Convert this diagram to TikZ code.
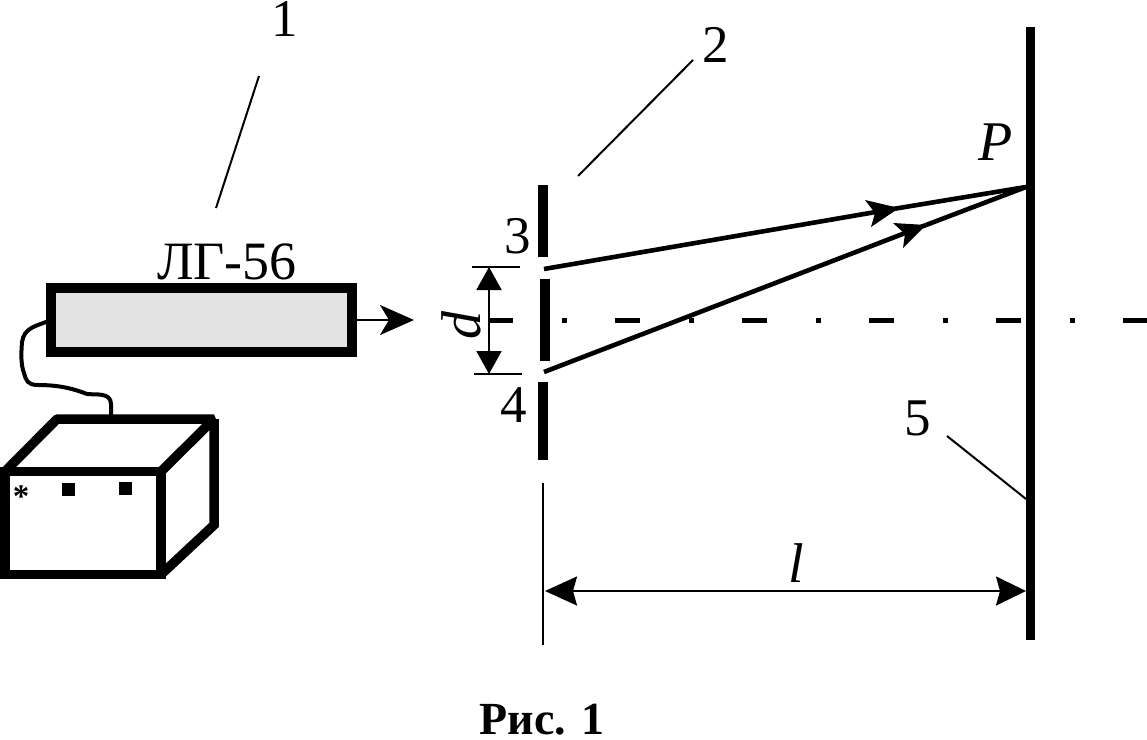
\documentclass[tikz,border=0pt]{standalone}
\usepackage{fontspec}
\setmainfont{Liberation Serif}
\usetikzlibrary{arrows.meta,calc}
\tikzset{
  lbl/.style={inner sep=0pt,outer sep=0pt,font=\fontsize{53}{53}\selectfont},
  ilbl/.style={lbl,font=\fontsize{56}{56}\selectfont\itshape},
  thickbox/.style={draw=black,line width=9.5pt,inner sep=0pt,outer sep=0pt},
  sq/.style={fill=black,inner sep=0pt,outer sep=0pt,minimum size=13pt},
  wall/.style={line width=9.5pt,black},
  ray/.style={line width=4.6pt,black},
  thin1/.style={line width=2pt,black},
  leader/.style={line width=2pt,black},
  cable/.style={line width=4pt,black,line join=round,line cap=round},
  axisline/.style={line width=5pt,black,dash pattern=on 25pt off 49pt on 4.5pt off 48.5pt,dash phase=0pt},
}
\begin{document}
\begin{tikzpicture}[x=1pt,y=-1pt]
\useasboundingbox (0,0) rectangle (1147,739);
% laser
\node[thickbox,fill=gray!22,minimum width=301pt,minimum height=64pt] (laser) at (201.5,320) {};
\node[font=\fontsize{54}{54}\selectfont,inner sep=0pt] (lasertxt) at (227,262) {ЛГ-56};
\coordinate (beam) at (414,320);
\draw[line width=2pt,-{Stealth[length=34pt,width=30pt,inset=9pt]}] (laser.east) -- (beam);
% power supply
\coordinate (bA) at (5,471.5);
\coordinate (bB) at (161,471.5);
\coordinate (bC) at (57,419);
\coordinate (bD) at (214,419);
\coordinate (bE) at (214,525);
\coordinate (bF) at (161,574.5);
\node[thickbox,minimum width=156pt,minimum height=103pt] (front) at (83,523) {};
\draw[wall,line join=bevel] (bA) -- (bC) -- (bD) -- (bB);
\draw[wall,line join=miter] (bD) -- (bE) -- (bF);
\node[sq] (s1) at (68.5,489.5) {};
\node[sq] (s2) at (125.5,488.5) {};
\node[inner sep=0pt,font=\fontsize{33}{33}\bfseries\selectfont] (star) at (21,497) {*};
% cable
\coordinate (cabS) at (46,322);
\coordinate (cabE) at (111,416);
\draw[cable] (cabS) .. controls (36,326) and (24,328) .. (22,342)
  .. controls (21,355) and (21,365) .. (24,373)
  .. controls (26,380) and (27,385) .. (38,385)
  .. controls (60,385) and (74,389) .. (87,394)
  .. controls (95,395) and (111,392) .. (111,404) -- (cabE);
% slits
\coordinate (w1a) at (543,185); \coordinate (w1b) at (543,257);
\coordinate (w2a) at (545,279); \coordinate (w2b) at (545,361);
\coordinate (w3a) at (543,382); \coordinate (w3b) at (543,460);
\draw[wall] (w1a) -- (w1b);
\draw[wall] (w2a) -- (w2b);
\draw[wall] (w3a) -- (w3b);
% screen
\coordinate (scrA) at (1030.5,27); \coordinate (scrB) at (1030.5,640);
\draw[wall] (scrA) -- (scrB);
% axis
\coordinate (axA) at (488,320); \coordinate (axB) at (1147,320);
\draw[axisline] (axA) -- (axB);
% rays
\coordinate (r3) at (544,269); \coordinate (r4) at (544,372);
\coordinate (P) at (1026,187);
\coordinate (t3) at (899,208); \coordinate (t4) at (926,225);
\draw[ray] (r3) -- (t3);
\draw[ray] (r4) -- (t4);
\draw[ray] (t3) -- (P);
\draw[ray] (t4) -- (P);
\fill[black] (t3) -- (865,200) -- (875,213) -- (871,227) -- cycle;
\fill[black] (t4) -- (893,223) -- (905,234) -- (903,248) -- cycle;
% d dimension
\coordinate (d1a) at (472,267); \coordinate (d1b) at (520,267);
\coordinate (d2a) at (474,374); \coordinate (d2b) at (522,374);
\coordinate (dt) at (489,267); \coordinate (db) at (489,374);
\draw[thin1] (d1a) -- (d1b);
\draw[thin1] (d2a) -- (d2b);
\draw[thin1,{Stealth[length=23pt,width=25pt,inset=0pt]}-{Stealth[length=23pt,width=25pt,inset=0pt]}] (dt) -- (db);
\node[ilbl,rotate=90] (d) at (461,325) {d};
% l dimension
\coordinate (la) at (543,483); \coordinate (lb) at (543,645);
\coordinate (l1) at (545,591); \coordinate (l2) at (1026,591);
\draw[thin1] (la) -- (lb);
\draw[thin1,{Stealth[length=32pt,width=29pt,inset=4pt]}-{Stealth[length=30pt,width=29pt,inset=4pt]}] (l1) -- (l2);
\node[ilbl] (l) at (796,563) {l};
% labels and leaders
\node[lbl] (n1) at (285,19) {1};
\node[lbl] (n2) at (716,45) {2};
\node[lbl] (n3) at (518,236) {3};
\node[lbl] (n4) at (514,405) {4};
\node[lbl] (n5) at (918,418) {5};
\node[ilbl] (nP) at (996,142) {P};
\coordinate (le1a) at (259,76); \coordinate (le1b) at (216,208);
\coordinate (le2a) at (693,60); \coordinate (le2b) at (578,176);
\coordinate (le5a) at (947,436); \coordinate (le5b) at (1026,499);
\draw[leader] (le1a) -- (le1b);
\draw[leader] (le2a) -- (le2b);
\draw[leader] (le5a) -- (le5b);
\node[inner sep=0pt,font=\fontsize{46}{46}\selectfont\bfseries] (cap) at (542,720) {Рис. 1};
\end{tikzpicture}
\end{document}
